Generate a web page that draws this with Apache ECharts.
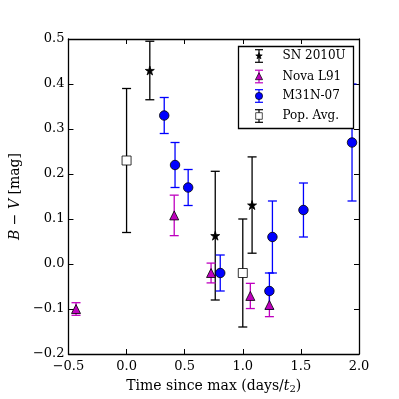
<!DOCTYPE html>
<html>
<head>
<meta charset="utf-8">
<script src="https://cdn.jsdelivr.net/npm/echarts@6/dist/echarts.min.js"></script>
<style>
  html, body { margin: 0; padding: 0; background: #fff; }
  #chart { width: 399px; height: 399px; }
</style>
</head>
<body>
<div id="chart"></div>
<script>
// values
const snX = [0.2, 0.763, 1.08];
const snY = [0.43, 0.063, 0.131];
const snErr = [0.065, 0.143, 0.107];

const novaX = [-0.435, 0.41, 0.727, 1.065, 1.229];
const novaY = [-0.1, 0.108, -0.02, -0.071, -0.091];
const novaErr = [0.014, 0.045, 0.022, 0.028, 0.026];

const m31X = [0.324, 0.417, 0.53, 0.806, 1.229, 1.255, 1.522, 1.94];
const m31Y = [0.33, 0.22, 0.17, -0.02, -0.06, 0.06, 0.12, 0.27];
const m31Err = [0.04, 0.05, 0.04, 0.04, 0.04, 0.08, 0.06, 0.13];

const popX = [0.0, 1.0];
const popY = [0.23, -0.02];
const popErr = [0.16, 0.12];

const seriesNames = ["SN 2010U", "Nova L91", "M31N-07", "Pop. Avg."];

const FONT = "DejaVu Serif";
const STAR = "path://M0 -100 L22 -31 L95 -31 L36 12 L59 81 L0 38 L-59 81 L-36 12 L-95 -31 L-22 -31 Z";

const fmt = (v) => {
    if (Math.abs(v) < 1e-9) return "0.0";
    return (v < 0 ? "\u2212" : "") + Math.abs(v).toFixed(1);
};

function errData(xs, ys, es) {
    return xs.map((x, i) => [x, ys[i] - es[i], ys[i] + es[i]]);
}

function pts(xs, ys) {
    return xs.map((x, i) => [x, ys[i]]);
}

function errSeries(name, color, data) {
    return {
        name: name,
        type: "custom",
        data: data,
        encode: { x: 0, y: [1, 2] },
        silent: true,
        renderItem: (params, api) => {
            const lo = api.coord([api.value(0), api.value(1)]);
            const hi = api.coord([api.value(0), api.value(2)]);
            const st = { stroke: color, lineWidth: 1.3 };
            const w = 4.5;
            return {
                type: "group",
                children: [
                    { type: "line", shape: { x1: lo[0], y1: lo[1], x2: hi[0], y2: hi[1] }, style: st },
                    { type: "line", shape: { x1: lo[0] - w, y1: lo[1], x2: lo[0] + w, y2: lo[1] }, style: st },
                    { type: "line", shape: { x1: hi[0] - w, y1: hi[1], x2: hi[0] + w, y2: hi[1] }, style: st },
                ],
            };
        },
    };
}

function dotSeries(name, symbol, size, fill, data) {
    return {
        name: name,
        type: "scatter",
        data: data,
        symbol: symbol,
        symbolSize: size,
        itemStyle: { color: fill, borderColor: "#000", borderWidth: 0.8, opacity: 1 },
        emphasis: { disabled: true },
        silent: true,
    };
}

const axisCommon = {
    type: "value",
    axisLine: { show: true, onZero: false, lineStyle: { color: "#000", width: 1.3 } },
    axisTick: { show: true, inside: true, length: 5, lineStyle: { color: "#000", width: 1 } },
    splitLine: { show: false },
};

// legend drawn by hand so each entry shows the error bar with its marker
const legendBox = { x: 238.5, y: 46.5, w: 115, h: 82 };
const legendRows = [56, 76.5, 96, 116];
const legendStyle = [
    { bar: "#000", fill: "#000", mark: "star" },
    { bar: "#bf00bf", fill: "#bf00bf", mark: "triangle" },
    { bar: "#0000ff", fill: "#0000ff", mark: "circle" },
    { bar: "#000", fill: "#fff", mark: "rect" },
];

function legendMarker(kind, cx, cy, fill) {
    const edge = { fill: fill, stroke: "#000", lineWidth: 0.7 };
    if (kind === "circle") return { type: "circle", z: 102, shape: { cx: cx, cy: cy, r: 3.6 }, style: edge };
    if (kind === "rect") return { type: "rect", z: 102, shape: { x: cx - 3.3, y: cy - 3.3, width: 6.6, height: 6.6 }, style: edge };
    if (kind === "triangle") {
        return { type: "polygon", z: 102, shape: { points: [[cx, cy - 3.8], [cx - 3.6, cy + 3.2], [cx + 3.6, cy + 3.2]] }, style: edge };
    }
    const p = [];
    for (let k = 0; k < 10; k++) {
        const r = k % 2 === 0 ? 3.4 : 1.4;
        const a = -Math.PI / 2 + (k * Math.PI) / 5;
        p.push([cx + r * Math.cos(a), cy + r * Math.sin(a)]);
    }
    return { type: "polygon", z: 102, shape: { points: p }, style: edge };
}

const legendGraphics = [
    {
        type: "rect",
        shape: { x: legendBox.x, y: legendBox.y, width: legendBox.w, height: legendBox.h },
        style: { fill: "#fff", stroke: "#000", lineWidth: 1.3 },
        z: 100,
    },
];
seriesNames.forEach((name, i) => {
    const cy = legendRows[i];
    const cx = 259;
    const s = legendStyle[i];
    const st = { stroke: s.bar, lineWidth: 1.2 };
    legendGraphics.push(
        { type: "line", z: 101, shape: { x1: cx, y1: cy - 6.3, x2: cx, y2: cy + 6.3 }, style: st },
        { type: "line", z: 101, shape: { x1: cx - 4, y1: cy - 6.3, x2: cx + 4, y2: cy - 6.3 }, style: st },
        { type: "line", z: 101, shape: { x1: cx - 4, y1: cy + 6.3, x2: cx + 4, y2: cy + 6.3 }, style: st },
        legendMarker(s.mark, cx, cy, s.fill),
        {
            type: "text",
            z: 102,
            x: 282.5,
            y: cy,
            style: { text: name, fontFamily: FONT, fontSize: 12, fill: "#000", verticalAlign: "middle", align: "left" },
        }
    );
});

const chart = echarts.init(document.getElementById("chart"), null, { renderer: "canvas" });

const option = {
    backgroundColor: "#fff",
    animation: false,
    grid: { left: 63, right: 40, top: 39, bottom: 44 },
    xAxis: [
        Object.assign({}, axisCommon, {
            position: "bottom",
            min: -0.5,
            max: 2.0,
            interval: 0.5,
            axisLabel: { formatter: fmt, fontFamily: FONT, fontSize: 13, color: "#000", margin: 6 },
            name: "Time since max (days/{it|t}{sub|2})",
            nameLocation: "middle",
            nameGap: 24,
            nameTextStyle: {
                fontFamily: FONT,
                fontSize: 14,
                color: "#000",
                rich: {
                    it: { fontFamily: FONT, fontStyle: "italic", fontSize: 14, color: "#000" },
                    sub: { fontFamily: FONT, fontSize: 10, color: "#000", verticalAlign: "bottom", padding: [6, 0, 0, 0] },
                },
            },
        }),
        Object.assign({}, axisCommon, {
            position: "top",
            min: -0.5,
            max: 2.0,
            interval: 0.5,
            axisLabel: { show: false },
        }),
    ],
    yAxis: [
        Object.assign({}, axisCommon, {
            position: "left",
            min: -0.2,
            max: 0.5,
            interval: 0.1,
            axisLabel: { formatter: fmt, fontFamily: FONT, fontSize: 13, color: "#000", margin: 4 },
            name: "{it|B} \u2212 {it|V} [mag]",
            nameLocation: "middle",
            nameRotate: 90,
            nameGap: 42,
            nameTextStyle: {
                fontFamily: FONT,
                fontSize: 14,
                color: "#000",
                rich: {
                    it: { fontFamily: FONT, fontStyle: "italic", fontSize: 14, color: "#000" },
                },
            },
        }),
        Object.assign({}, axisCommon, {
            position: "right",
            min: -0.2,
            max: 0.5,
            interval: 0.1,
            axisLabel: { show: false },
        }),
    ],
    series: [
        errSeries(seriesNames[0], "#000", errData(snX, snY, snErr)),
        dotSeries(seriesNames[0], STAR, 9, "#000", pts(snX, snY)),
        errSeries(seriesNames[1], "#bf00bf", errData(novaX, novaY, novaErr)),
        dotSeries(seriesNames[1], "triangle", [9, 9], "#bf00bf", pts(novaX, novaY)),
        errSeries(seriesNames[2], "#0000ff", errData(m31X, m31Y, m31Err)),
        dotSeries(seriesNames[2], "circle", 9.5, "#0000ff", pts(m31X, m31Y)),
        errSeries(seriesNames[3], "#000", errData(popX, popY, popErr)),
        dotSeries(seriesNames[3], "rect", 9, "#fff", pts(popX, popY)),
    ],
    graphic: legendGraphics,
};

chart.setOption(option);
window.addEventListener("resize", () => chart.resize());
</script>
</body>
</html>
